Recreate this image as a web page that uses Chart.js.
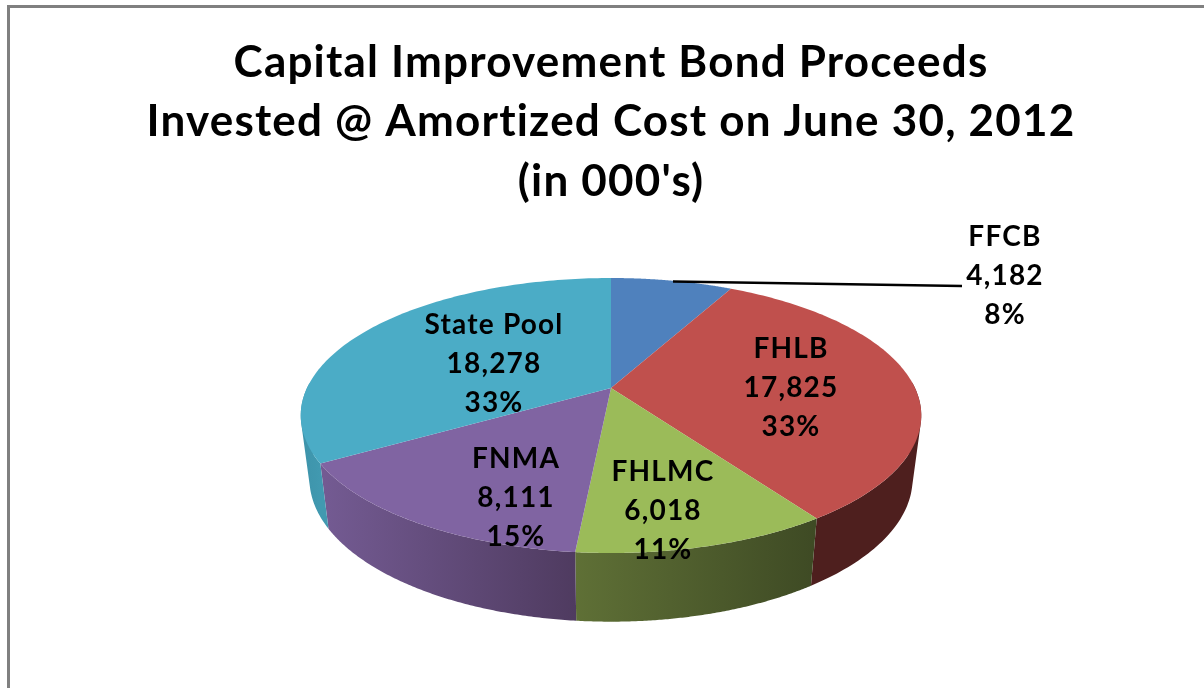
<!DOCTYPE html>
<html>
<head>
<meta charset="utf-8">
<title>Capital Improvement Bond Proceeds</title>
<script src="https://cdn.jsdelivr.net/npm/chart.js@4"></script>
<style>
    html, body { margin: 0; padding: 0; background: #fff; overflow: hidden; }
    #frame { position: absolute; left: 7px; top: 5px; width: 1197px; height: 683px; border-top: 3px solid #808080; border-left: 3px solid #808080; box-sizing: border-box; }
    canvas { position: absolute; left: 0; top: 0; }
</style>
</head>
<body>
<canvas id="pieChart" width="1204" height="688"></canvas>
<div id="frame"></div>
<script>
const categories = ['FFCB', 'FHLB', 'FHLMC', 'FNMA', 'State Pool'];
const values = [4182, 17825, 6018, 8111, 18278];
const percents = ['8%', '33%', '11%', '15%', '33%'];
const titleLines = ['Capital Improvement Bond Proceeds', 'Invested @ Amortized Cost on June 30, 2012', "(in 000's)"];

const topColors = ['#4f81bd', '#c0504d', '#9bbb59', '#8064a2', '#4bacc6'];
const sideLeft = ['#3b618e', '#4e1f1e', '#5f7036', '#745b93', '#3d93aa'];
const sideRight = ['#3b618e', '#4e1f1e', '#3e4a24', '#4f3b60', '#4199b0'];

// 标签中心位置
const labelPos = [[1005, 237], [791, 349], [663, 472], [516, 459], [494, 325]];

// 3D 饼图的透视参数
const cx = 611, cy = 388, rx = 304, ry = 132, persp = 0.2, depth = 62, shrink = 0.972;

function project(angle, lower) {
    const u = Math.cos(angle), v = Math.sin(angle);
    const f = 1 / (1 - persp * v);
    if (lower) return [cx + rx * u * f * shrink, cy + depth * Math.pow(f, 0.75) + ry * v * f * shrink];
    return [cx + rx * u * f, cy + ry * v * f];
}

const pie3d = {
    id: 'pie3d',
    beforeDraw(chart) {
        chart.ctx.letterSpacing = '1.2px';
    },
    beforeDatasetsDraw(chart) {
        const ctx = chart.ctx;
        const arcs = chart.getDatasetMeta(0).data;
        ctx.save();

        // 侧面
        arcs.forEach(function(arc, i) {
            const front = [];
            for (let n = 0; n <= 120; n++) {
                const a = arc.startAngle + (arc.endAngle - arc.startAngle) * n / 120;
                if (Math.sin(a) > -0.05) front.push(a);
            }
            if (front.length < 2) return;
            const xs = front.map(function(a) { return project(a, false)[0]; });
            const grad = ctx.createLinearGradient(Math.min.apply(null, xs), 0, Math.max.apply(null, xs), 0);
            grad.addColorStop(0, sideLeft[i]);
            grad.addColorStop(1, sideRight[i]);
            ctx.fillStyle = grad;
            ctx.beginPath();
            for (let n = 0; n < front.length - 1; n++) {
                let quad = [project(front[n], false), project(front[n + 1], false), project(front[n + 1], true), project(front[n], true)];
                let area = 0;
                quad.forEach(function(p, k) {
                    const q = quad[(k + 1) % 4];
                    area += p[0] * q[1] - q[0] * p[1];
                });
                if (area < 0) quad = quad.reverse();
                ctx.moveTo(quad[0][0], quad[0][1]);
                ctx.lineTo(quad[1][0], quad[1][1]);
                ctx.lineTo(quad[2][0], quad[2][1]);
                ctx.lineTo(quad[3][0], quad[3][1]);
                ctx.closePath();
            }
            ctx.fill();
        });

        // 顶面
        arcs.forEach(function(arc, i) {
            ctx.beginPath();
            ctx.moveTo(cx, cy);
            for (let n = 0; n <= 120; n++) {
                const p = project(arc.startAngle + (arc.endAngle - arc.startAngle) * n / 120, false);
                ctx.lineTo(p[0], p[1]);
            }
            ctx.closePath();
            ctx.fillStyle = topColors[i];
            ctx.fill();
        });

        // 引导线
        ctx.beginPath();
        ctx.moveTo(673, 281.5);
        ctx.lineTo(962, 286);
        ctx.strokeStyle = '#000';
        ctx.lineWidth = 2.5;
        ctx.stroke();

        // 数据标签
        ctx.fillStyle = '#000';
        ctx.font = 'bold 28px Lato';
        ctx.textAlign = 'center';
        ctx.textBaseline = 'middle';
        categories.forEach(function(name, i) {
            const x = labelPos[i][0], y = labelPos[i][1];
            ctx.fillText(name, x, y);
            ctx.fillText(values[i].toLocaleString('en-US'), x, y + 39);
            ctx.fillText(percents[i], x, y + 78);
        });

        ctx.restore();
        return false;
    }
};

new Chart(document.getElementById('pieChart').getContext('2d'), {
    type: 'pie',
    data: {
        labels: categories,
        datasets: [{
            data: values,
            backgroundColor: topColors,
            borderWidth: 0
        }]
    },
    plugins: [pie3d],
    options: {
        responsive: false,
        animation: false,
        layout: { padding: { left: 18, top: 33 } },
        plugins: {
            legend: { display: false },
            tooltip: { enabled: false },
            title: {
                display: true,
                text: titleLines,
                color: '#000',
                font: { family: 'Lato', weight: 'bold', size: 44, lineHeight: 1.35 },
                padding: 0
            }
        }
    }
});
</script>
</body>
</html>
